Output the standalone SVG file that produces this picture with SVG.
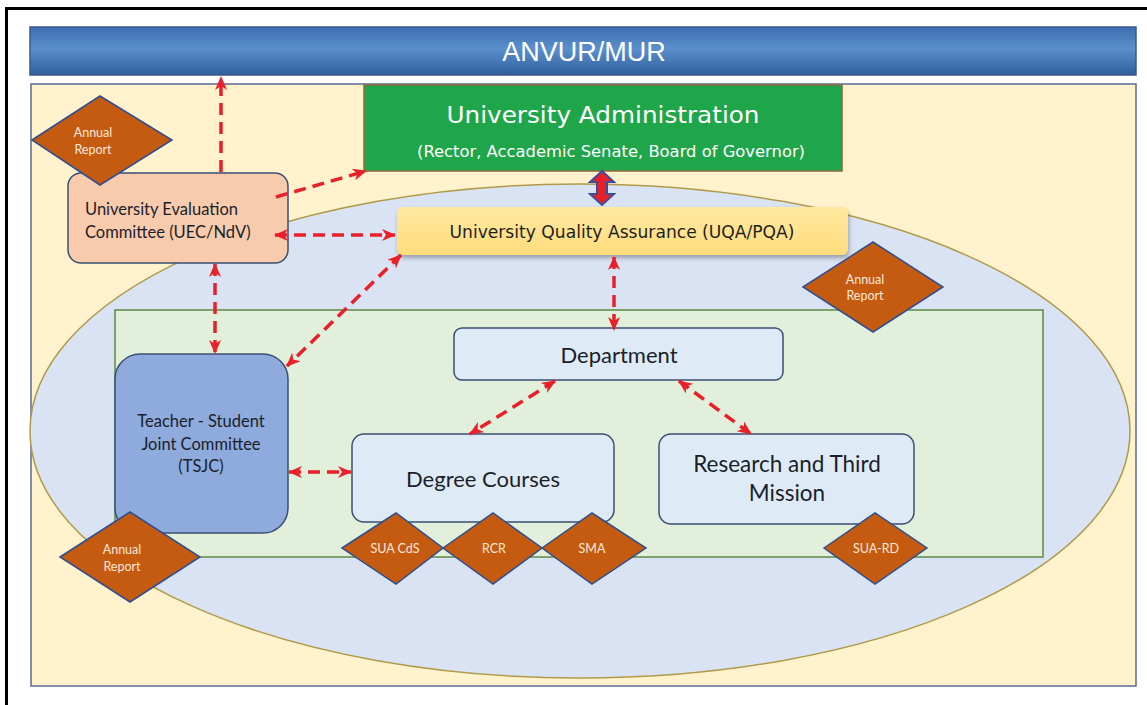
<svg xmlns="http://www.w3.org/2000/svg" width="1147" height="705" viewBox="0 0 1147 705">
<defs>
<linearGradient id="bannerGrad" x1="0" y1="0" x2="0" y2="1">
<stop offset="0" stop-color="#3D6DB0"/>
<stop offset="0.45" stop-color="#5B8FCC"/>
<stop offset="1" stop-color="#2F5E9E"/>
</linearGradient>
<linearGradient id="uqaGrad" x1="0" y1="0" x2="0" y2="1">
<stop offset="0" stop-color="#FFE9A0"/>
<stop offset="1" stop-color="#FFDC7C"/>
</linearGradient>
<filter id="shadow" x="-10%" y="-20%" width="120%" height="150%">
<feDropShadow dx="1" dy="3" stdDeviation="2" flood-color="#000" flood-opacity="0.3"/>
</filter>
<marker id="ah" viewBox="0 0 14 12" refX="13" refY="6" markerWidth="14" markerHeight="12" markerUnits="userSpaceOnUse" orient="auto-start-reverse">
<path d="M0,0 L14,6 L0,12 L4,6 z" fill="#E8202A"/>
</marker>
<style>
.calibri{font-family:Lato,"Open Sans","Liberation Sans",sans-serif;}
.comic{font-family:"DejaVu Sans","Liberation Sans",sans-serif;}
.diamond{fill:#C55A11;stroke:#2F4F8F;stroke-width:1.5;}
.dtext{font-family:Lato,"Open Sans","Liberation Sans",sans-serif;fill:#FCE9D9;text-anchor:middle;}
.box{stroke:#3B4F73;stroke-width:1.5;}
.conn{fill:none;stroke:#E8202A;stroke-width:3.5;stroke-dasharray:12 7;}
.label{fill:#1A1F2A;text-anchor:middle;}
</style>
</defs>

<!-- outer frame -->
<rect x="0" y="0" width="1147" height="705" fill="#FFFFFF"/>
<rect x="6.5" y="8.5" width="1160" height="720" fill="none" stroke="#000" stroke-width="3"/>

<!-- banner -->
<g id="anvur">
<rect x="30" y="27" width="1106" height="48" fill="url(#bannerGrad)" stroke="#3A5A8A" stroke-width="1.5"/>
<text x="584" y="61" font-family="'Liberation Sans',Arial,sans-serif" font-size="27" fill="#FFFFFF" text-anchor="middle">ANVUR/MUR</text>
</g>

<!-- yellow panel -->
<rect id="panel" x="31" y="84" width="1105" height="602" fill="#FFF2CC" stroke="#5A6A92" stroke-width="1.5"/>

<!-- ellipse -->
<ellipse id="ellipse" cx="580" cy="431" rx="550" ry="247" fill="#DAE3F3" stroke="#B09A4A" stroke-width="1.5"/>

<!-- green panel -->
<rect id="greenPanel" x="115" y="310" width="928" height="247" fill="#E2EFDA" stroke="#5E8A46" stroke-width="1.5"/>

<!-- University Administration -->
<g id="admin">
<rect x="364" y="85" width="478" height="86" fill="#1FA64A" stroke="#8C6B3A" stroke-width="1.5"/>
<text x="603" y="123" class="comic" font-size="23" fill="#FFFFFF" text-anchor="middle" textLength="313" lengthAdjust="spacingAndGlyphs">University Administration</text>
<text x="611" y="157" class="comic" font-size="16" fill="#FFFFFF" text-anchor="middle" textLength="388" lengthAdjust="spacingAndGlyphs">(Rector, Accademic Senate, Board of Governor)</text>
</g>

<!-- UQA -->
<g id="uqa">
<rect x="397" y="207" width="451" height="48" rx="6" fill="url(#uqaGrad)" filter="url(#shadow)"/>
<text x="622" y="238" class="comic" font-size="17" fill="#1E1E1E" text-anchor="middle" textLength="345" lengthAdjust="spacingAndGlyphs">University Quality Assurance (UQA/PQA)</text>
</g>

<!-- block double arrow admin <-> UQA -->
<polygon id="blockArrow" points="602,171 614,182 607,182 607,194 614,194 602,205 590,194 597,194 597,182 590,182" fill="#E8202A" stroke="#3A4F9A" stroke-width="2" stroke-linejoin="miter"/>

<!-- UEC -->
<g id="uec">
<rect x="68" y="173" width="220" height="90" rx="13" fill="#F8CBAD" class="box"/>
<text x="85" y="215" class="calibri" font-size="16.5" fill="#1A1F2A">University Evaluation</text>
<text x="85" y="238" class="calibri" font-size="16.5" fill="#1A1F2A">Committee (UEC/NdV)</text>
</g>

<!-- TSJC -->
<g id="tsjc">
<rect x="115" y="354" width="173" height="179" rx="25" fill="#8FAADC" class="box"/>
<text x="201" y="427" class="calibri label" font-size="16.5">Teacher - Student</text>
<text x="201" y="450" class="calibri label" font-size="16.5">Joint Committee</text>
<text x="201" y="472" class="calibri label" font-size="16.5">(TSJC)</text>
</g>

<!-- Department -->
<g id="department">
<rect x="454" y="328" width="329" height="52" rx="8" fill="#DEEBF7" class="box"/>
<text x="619" y="363" class="calibri label" font-size="22">Department</text>
</g>

<!-- Degree Courses -->
<g id="degree">
<rect x="352" y="434" width="262" height="88" rx="12" fill="#DEEBF7" class="box"/>
<text x="483" y="487" class="calibri label" font-size="22">Degree Courses</text>
</g>

<!-- Research -->
<g id="research">
<rect x="659" y="434" width="255" height="90" rx="12" fill="#DEEBF7" class="box"/>
<text x="787" y="472" class="calibri label" font-size="22.5">Research and Third</text>
<text x="787" y="501" class="calibri label" font-size="22.5">Mission</text>
</g>

<!-- diamonds -->
<g id="annualReport1">
<polygon points="32,140 100,96 172,140 100,185" class="diamond"/>
<text x="93" y="137" class="dtext" font-size="12.5">Annual</text>
<text x="93" y="154" class="dtext" font-size="12.5">Report</text>
</g>
<g id="annualReport2">
<polygon points="803,287 873,242 943,287 873,332" class="diamond"/>
<text x="865" y="284" class="dtext" font-size="12.5">Annual</text>
<text x="865" y="300" class="dtext" font-size="12.5">Report</text>
</g>
<g id="annualReport3">
<polygon points="60,557 130,512 200,557 130,602" class="diamond"/>
<text x="122" y="554" class="dtext" font-size="12.5">Annual</text>
<text x="122" y="571" class="dtext" font-size="12.5">Report</text>
</g>
<g id="suaCds">
<polygon points="342,548 396,513 443,548 396,584" class="diamond"/>
<text x="395" y="553" class="dtext" font-size="12.5">SUA CdS</text>
</g>
<g id="rcr">
<polygon points="443,548 493,513 542,548 493,584" class="diamond"/>
<text x="494" y="553" class="dtext" font-size="12.5">RCR</text>
</g>
<g id="sma">
<polygon points="542,548 592,513 646,548 592,584" class="diamond"/>
<text x="592" y="553" class="dtext" font-size="12.5">SMA</text>
</g>
<g id="suaRd">
<polygon points="824,548 875,513 927,548 875,584" class="diamond"/>
<text x="876" y="553" class="dtext" font-size="12.5">SUA-RD</text>
</g>

<!-- connectors -->
<g id="connectors">
<line class="conn" x1="221" y1="172" x2="221" y2="77" marker-end="url(#ah)"/>
<line class="conn" x1="276" y1="197" x2="366" y2="171" marker-end="url(#ah)"/>
<line class="conn" x1="275" y1="235" x2="395" y2="235" marker-start="url(#ah)" marker-end="url(#ah)"/>
<line class="conn" x1="215" y1="264" x2="215" y2="353" marker-start="url(#ah)" marker-end="url(#ah)"/>
<line class="conn" x1="401" y1="255" x2="287" y2="366" marker-start="url(#ah)" marker-end="url(#ah)"/>
<line class="conn" x1="614" y1="257" x2="614" y2="330" marker-start="url(#ah)" marker-end="url(#ah)"/>
<line class="conn" x1="555" y1="381" x2="470" y2="434" marker-start="url(#ah)" marker-end="url(#ah)"/>
<line class="conn" x1="679" y1="381" x2="751" y2="434" marker-start="url(#ah)" marker-end="url(#ah)"/>
<line class="conn" x1="289" y1="472" x2="351" y2="472" marker-start="url(#ah)" marker-end="url(#ah)"/>
</g>
</svg>
